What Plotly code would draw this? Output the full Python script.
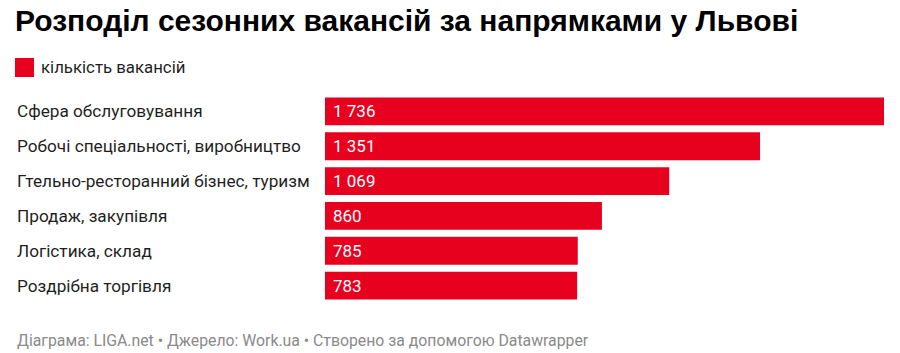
import plotly.graph_objects as go

categories = [
    "Сфера обслуговування",
    "Робочі спеціальності, виробництво",
    "Гтельно-ресторанний бізнес, туризм",
    "Продаж, закупівля",
    "Логістика, склад",
    "Роздрібна торгівля",
]
values = [1736, 1351, 1069, 860, 785, 783]
series_name = "кількість вакансій"
title_text = "Розподіл сезонних вакансій за напрямками у Львові"
footer_text = "Діаграма: LIGA.net • Джерело: Work.ua • Створено за допомогою Datawrapper"

W, H = 900, 353
L, R, T, B = 325, 16, 94, 50
PW, PH = W - L - R, H - T - B
RED = "#e8001f"


def px_x(x):
    return (x - L) / PW


def px_y(y):
    return (H - B - y) / PH


fig = go.Figure()
fig.add_trace(go.Bar(
    x=values, y=categories, orientation="h",
    marker=dict(color=RED, line=dict(width=0)),
    showlegend=False, hoverinfo="skip",
))

annotations = []
for c, v in zip(categories, values):
    annotations.append(dict(
        x=px_x(15), xref="paper", y=c, yref="y", text=c, showarrow=False,
        xanchor="left", yanchor="middle",
        font=dict(family="Roboto", size=17.2, color="#1f1f1f"),
    ))
    annotations.append(dict(
        x=0, xref="x", y=c, yref="y", xshift=6,
        text=f"{v:,}".replace(",", " "), showarrow=False,
        xanchor="left", yanchor="middle",
        font=dict(family="Roboto", size=17, color="white"),
    ))

# legend
annotations.append(dict(
    x=px_x(39), xref="paper", y=px_y(67), yref="paper", text=series_name,
    showarrow=False, xanchor="left", yanchor="middle",
    font=dict(family="Roboto", size=16.8, color="#1f1f1f"),
))
# footer
annotations.append(dict(
    x=px_x(15), xref="paper", y=px_y(340), yref="paper", text=footer_text,
    showarrow=False, xanchor="left", yanchor="middle",
    font=dict(family="Roboto", size=15.8, color="#8a8a8a"),
))

shapes = [dict(
    type="rect", xref="paper", yref="paper",
    x0=px_x(15), x1=px_x(34), y0=px_y(77), y1=px_y(58),
    fillcolor=RED, line=dict(width=0),
)]

fig.update_layout(
    width=W, height=H,
    margin=dict(l=L, r=R, t=T, b=B, pad=0),
    paper_bgcolor="white", plot_bgcolor="white",
    bargap=0.2,
    title=dict(
        text=title_text, x=15 / W, xanchor="left", xref="container",
        y=1 - 20 / H, yanchor="middle", yref="container",
        font=dict(family="Liberation Sans", size=30, color="#000000", weight="bold"),
    ),
    xaxis=dict(range=[0, max(values)], visible=False, fixedrange=True),
    yaxis=dict(autorange="reversed", visible=False, fixedrange=True),
    annotations=annotations,
    shapes=shapes,
)

fig.write_html("out.html")
